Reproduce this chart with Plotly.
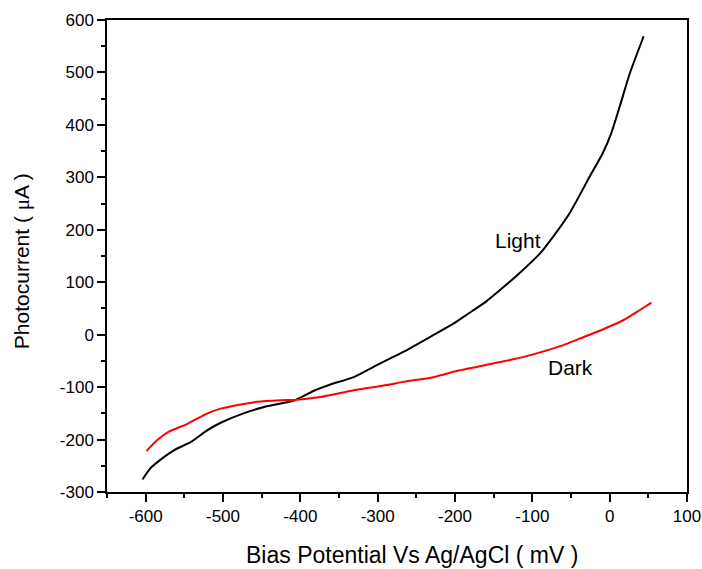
import plotly.graph_objects as go

# Light (illuminated) curve
light_x = [-604, -594, -576, -563, -542, -520, -503, -477, -447, -409, -396, -381, -361, -331,
           -301, -267, -232, -202, -185, -159, -133, -116, -90, -73, -52, -26, -9, 2, 13, 26, 44]
light_y = [-276, -255, -233, -220, -205, -182, -168, -152, -138, -126, -117, -106, -95, -81,
           -58, -33, -4, 21, 38, 64, 96, 118, 155, 187, 231, 301, 346, 384, 435, 498, 569]

# Dark curve
dark_x = [-599, -585, -570, -546, -520, -503, -477, -456, -426, -404, -374, -331, -288, -267,
          -228, -194, -151, -125, -100, -60, -41, -17, 17, 39, 54]
dark_y = [-222, -201, -185, -170, -150, -141, -133, -128, -125, -124, -119, -106, -96, -90,
          -81, -68, -55, -47, -38, -20, -9, 5, 27, 47, 61]

x_ticks = [-600, -500, -400, -300, -200, -100, 0, 100]
x_labels = ["-600", "-500", "-400", "-300", "-200", "-100", "0", "100"]
y_ticks = [-300, -200, -100, 0, 100, 200, 300, 400, 500, 600]
y_labels = ["-300", "-200", "-100", "0", "100", "200", "300", "400", "500", "600"]

FONT = "Liberation Sans, Arial, sans-serif"

fig = go.Figure()
fig.add_trace(go.Scatter(x=light_x, y=light_y, mode="lines",
                         line=dict(color="black", width=2, shape="spline", smoothing=0.6),
                         showlegend=False))
fig.add_trace(go.Scatter(x=dark_x, y=dark_y, mode="lines",
                         line=dict(color="#ff0000", width=2, shape="spline", smoothing=0.6),
                         showlegend=False))

fig.add_annotation(x=-119, y=180, text="Light", showarrow=False,
                   font=dict(family=FONT, size=21, color="black"))
fig.add_annotation(x=-51, y=-62, text="Dark", showarrow=False,
                   font=dict(family=FONT, size=21, color="black"))

# axis titles as annotations (placed to match reference)
fig.add_annotation(xref="paper", yref="paper", x=0.526, y=-0.134,
                   text="Bias Potential Vs Ag/AgCl ( mV )", showarrow=False,
                   xanchor="center", yanchor="middle",
                   font=dict(family=FONT, size=23, color="black"))
fig.add_annotation(xref="paper", yref="paper", x=-0.1466, y=0.489,
                   text="Photocurrent ( <span style=\"font-family:'Liberation Serif'\">\u03bc</span>A )",
                   showarrow=False, textangle=-90,
                   xanchor="center", yanchor="middle",
                   font=dict(family=FONT, size=21, color="black"))

axis_common = dict(
    showline=True, linecolor="black", linewidth=1.5, mirror=True,
    showgrid=False, zeroline=False, automargin=False,
    ticks="outside", ticklen=8, tickwidth=1.5, tickcolor="black",
    tickfont=dict(family=FONT, size=17, color="black"),
)

fig.update_xaxes(range=[-650, 100], tickvals=x_ticks, ticktext=x_labels,
                 minor=dict(ticks="outside", ticklen=4, tickwidth=1.5, tickcolor="black", dtick=50,
                            tick0=-650, showgrid=False),
                 **axis_common)
fig.update_yaxes(range=[-300, 600], tickvals=y_ticks, ticktext=y_labels,
                 minor=dict(ticks="outside", ticklen=4, tickwidth=1.5, tickcolor="black", dtick=50,
                            tick0=-300, showgrid=False),
                 **axis_common)

fig.update_layout(
    width=702, height=569,
    margin=dict(l=107, r=15, t=20, b=77),
    plot_bgcolor="white", paper_bgcolor="white",
)

fig.write_html("out.html")
